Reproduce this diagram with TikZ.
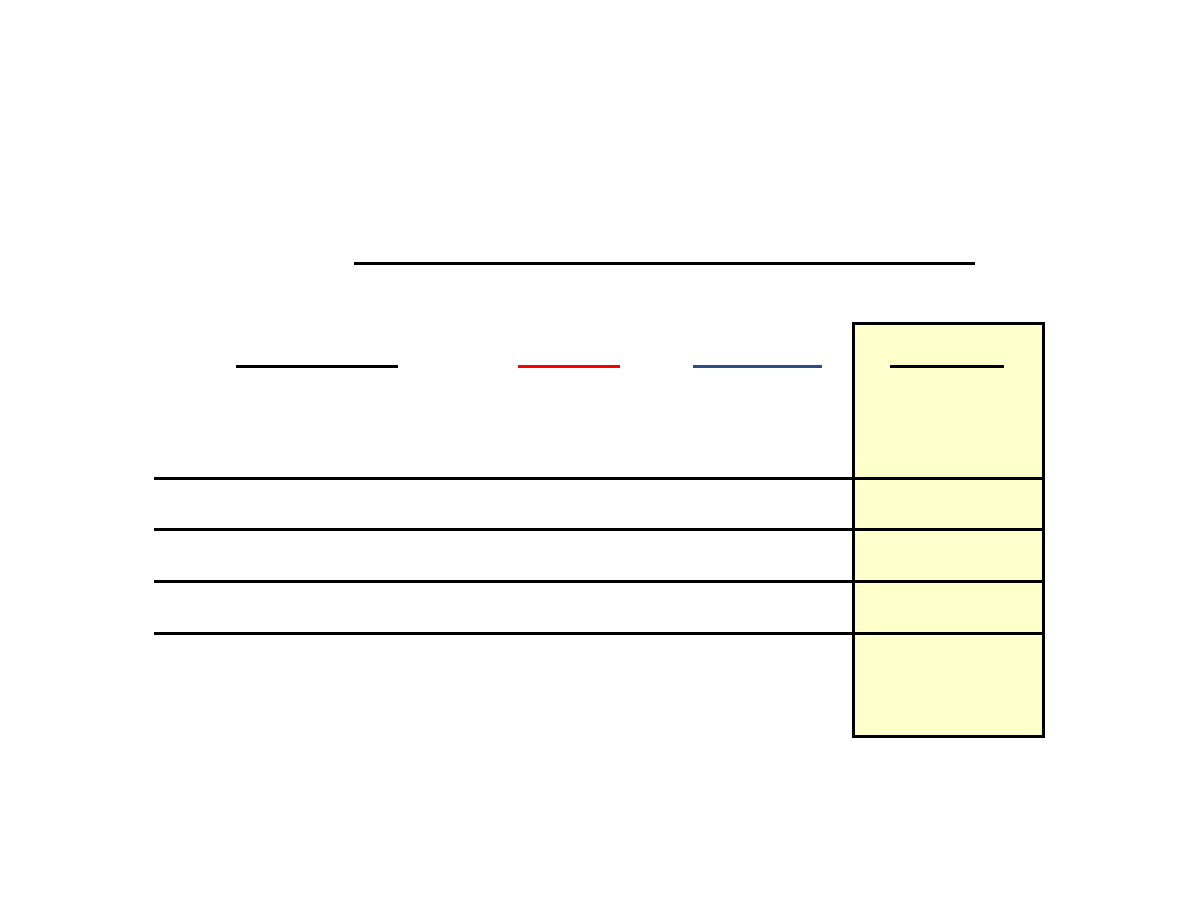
\documentclass[tikz,border=0pt]{standalone}
\usepackage{tikz}
\definecolor{boxfill}{HTML}{FFFFCC}
\definecolor{lineblue}{HTML}{2A4E86}
\definecolor{linered}{HTML}{FF0000}
\tikzset{
  rule/.style={line width=3pt, line cap=butt},
}
\begin{document}
\begin{tikzpicture}[x=1pt,y=-1pt]
\useasboundingbox (0,0) rectangle (1188,918);
% highlighted column
\fill[boxfill] (853,323) rectangle (1043,736);
% top rule
\draw[rule] (354,263) -- (975,263);
% header underlines
\draw[rule] (236,366) -- (398,366);
\draw[rule, linered] (518,366) -- (620,366);
\draw[rule, lineblue] (693,366) -- (822,366);
\draw[rule] (890,366) -- (1004,366);
% row rules
\foreach \yy in {478,529,581,633}{
  \draw[rule] (154,\yy) -- (1043,\yy);
}
% box border
\draw[rule] (853,323) rectangle (1043,736);
\end{tikzpicture}
\end{document}
